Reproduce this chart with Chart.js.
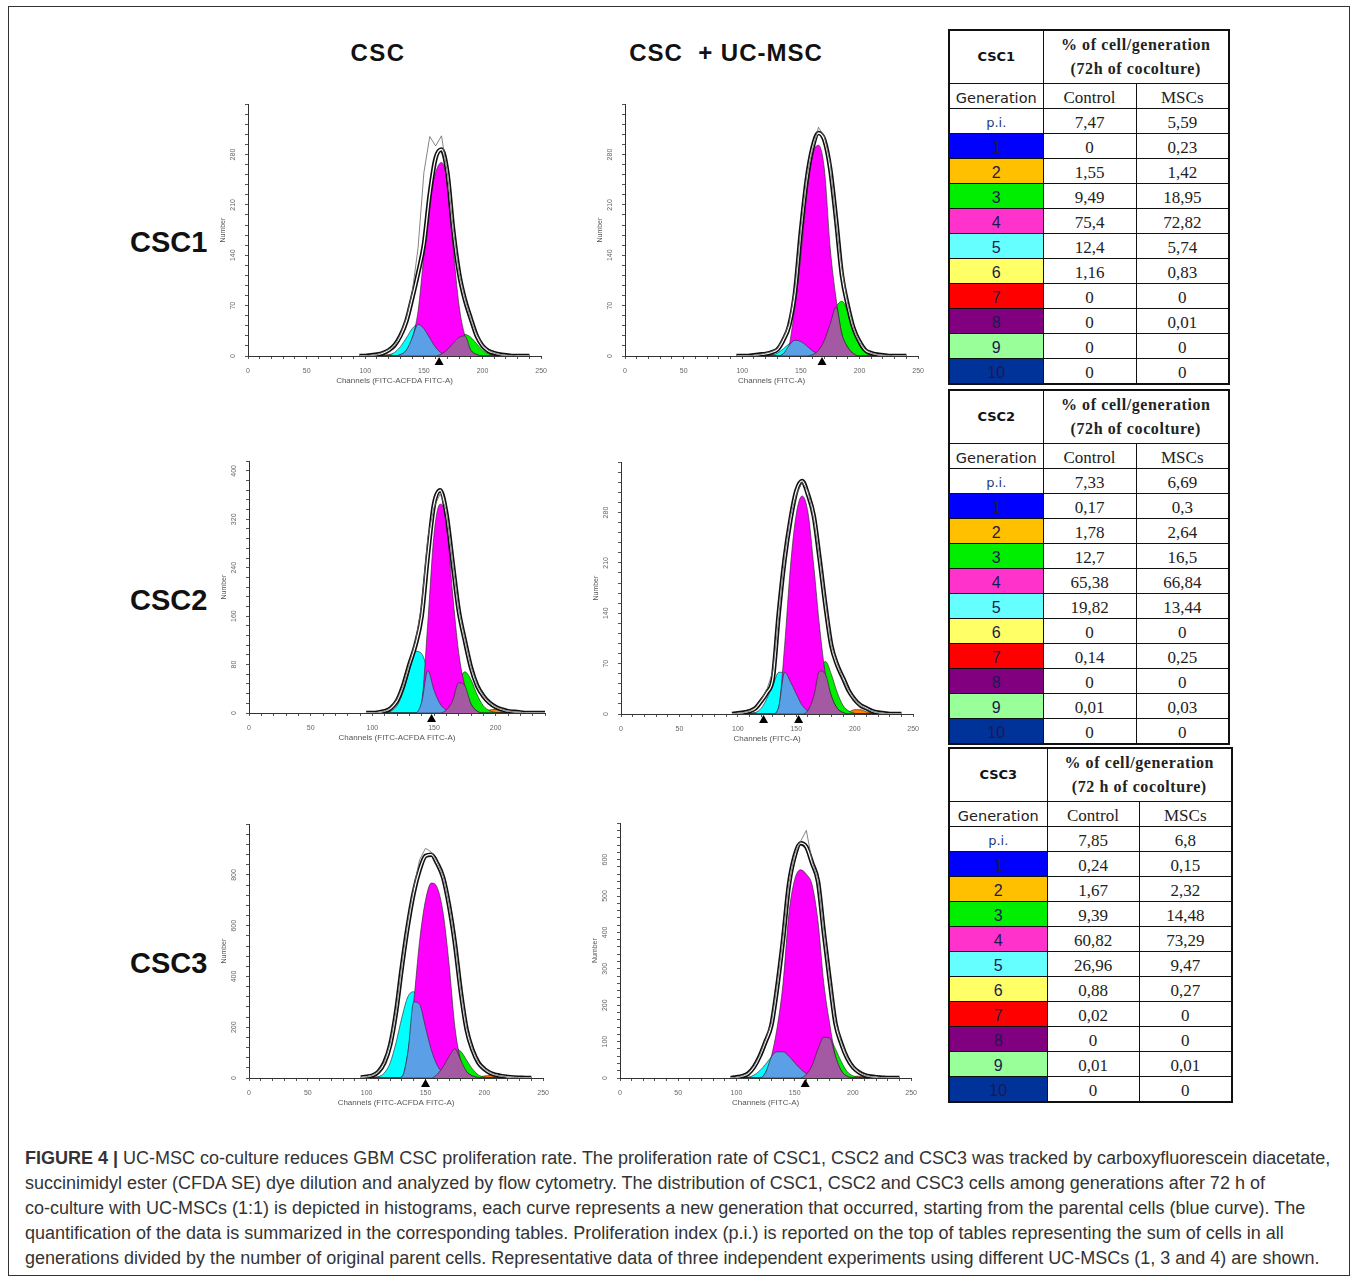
<!DOCTYPE html>
<html>
<head>
<meta charset="utf-8">
<script src="https://cdn.jsdelivr.net/npm/chart.js@4.4.1/dist/chart.umd.min.js"></script>
<style>
body{margin:0;background:#fff;width:1356px;height:1280px;position:relative;overflow:hidden;font-family:"Liberation Sans",Arial,sans-serif;}
#frame{position:absolute;left:8px;top:6px;width:1340px;height:1268px;border:1px solid #333;}
.colhead{position:absolute;top:39px;font-weight:bold;font-size:24px;color:#111;text-align:center;width:300px;}
.rowhead{position:absolute;left:130px;font-weight:bold;font-size:29px;color:#111;}
canvas{position:absolute;}
table{position:absolute;border-collapse:collapse;table-layout:fixed;border:2px solid #111;}
td{border:1.5px solid #111;text-align:center;padding:0;height:24px;font-family:"Liberation Serif",serif;font-size:17px;color:#222;line-height:20px;vertical-align:bottom;}
td.hd{height:52px;vertical-align:middle;}
td.cscname{font-family:"DejaVu Sans",sans-serif;font-weight:bold;font-size:13px;color:#111;}
td.pct{font-weight:bold;font-size:16px;letter-spacing:0.6px;line-height:24px;}
td.genhd{font-family:"DejaVu Sans",sans-serif;font-size:14.5px;}
td.gen{font-family:"Liberation Sans",sans-serif;font-size:16px;color:#1a1a50;}
td.pi{font-family:"DejaVu Sans",sans-serif;font-size:13px;color:#1f3a80;}
#caption{position:absolute;left:25px;top:1146px;width:1320px;font-size:18px;line-height:25px;color:#333;white-space:nowrap;}
</style>
</head>
<body>
<div id="frame"></div>
<div class="colhead" style="left:228px;letter-spacing:1.5px">CSC</div>
<div class="colhead" style="left:576px;letter-spacing:1px">CSC&nbsp; + UC-MSC</div>
<div class="rowhead" style="top:226px">CSC1</div>
<div class="rowhead" style="top:584px">CSC2</div>
<div class="rowhead" style="top:947px">CSC3</div>

<canvas id="p1"></canvas>
<canvas id="p2"></canvas>
<canvas id="p3"></canvas>
<canvas id="p4"></canvas>
<canvas id="p5"></canvas>
<canvas id="p6"></canvas>

<div id="tables"></div>

<div id="caption"><b>FIGURE 4 |</b> UC-MSC co-culture reduces GBM CSC proliferation rate. The proliferation rate of CSC1, CSC2 and CSC3 was tracked by carboxyfluorescein diacetate,<br>succinimidyl ester (CFDA SE) dye dilution and analyzed by flow cytometry. The distribution of CSC1, CSC2 and CSC3 cells among generations after 72 h of<br>co-culture with UC-MSCs (1:1) is depicted in histograms, each curve represents a new generation that occurred, starting from the parental cells (blue curve). The<br>quantification of the data is summarized in the corresponding tables. Proliferation index (p.i.) is reported on the top of tables representing the sum of cells in all<br>generations divided by the number of original parent cells. Representative data of three independent experiments using different UC-MSCs (1, 3 and 4) are shown.</div>

<script>
// channels (x values) for every curve
let channels = [95,100,105,110,115,120,125,130,135,140,145,150,155,160,165,170,175,180,185,190,195,200,205,210,215,220,225,230,235,240];

let xTickLabels = [0,50,100,150,200,250];
let yTicks1 = [0,70,140,210,280];
let yTicks3 = [0,80,160,240,320,400];
let yTicks5 = [0,200,400,600,800];
let yTicks6 = [0,100,200,300,400,500,600];

/* CSC1 control */
let c1_raw = [0,0,1,2,5,9,14,30,52,88,150,255,305,292,306,255,178,115,80,50,30,15,8,4,2,1,1,0,0,0];
let c1_env = [0,0,1,2,4,8,15,28,48,80,115,155,225,275,287,255,175,115,78,52,28,14,7,4,2,1,0,0,0,0];
let c1_g2  = [0,0,0,0,0,0,0,0,0,0,0,0,0,0,0,0,0,0,0,0,1,2,2,2,1,0,0,0,0,0];
let c1_g3  = [0,0,0,0,0,0,0,0,0,0,0,0,0,0,3,9,18,26,30,26,17,8,3,1,0,0,0,0,0,0];
let c1_g4  = [0,0,0,0,0,0,0,2,8,25,62,140,215,255,269,240,150,70,28,8,2,0,0,0,0,0,0,0,0,0];
let c1_g5  = [0,0,0,0,0,1,5,13,25,38,44,38,25,12,4,1,0,0,0,0,0,0,0,0,0,0,0,0,0,0];
let c1_g6  = [0,0,0,0,1,2,3,3,2,1,0,0,0,0,0,0,0,0,0,0,0,0,0,0,0,0,0,0,0,0];
let marks1 = [163];

/* CSC1 + UC-MSC */
let c2_raw = [0,0,0,1,2,4,6,10,25,45,95,178,250,288,318,305,268,185,120,72,38,19,9,4,2,1,1,0,0,0];
let c2_env = [0,0,0,1,2,3,5,9,22,42,88,173,245,290,310,300,260,190,112,70,38,20,8,4,2,1,0,0,0,0];
let c2_g2  = [0,0,0,0,0,0,0,0,0,0,0,0,0,0,0,0,0,0,0,0,0,1,2,2,1,0,0,0,0,0];
let c2_g3  = [0,0,0,0,0,0,0,0,0,0,0,0,0,2,8,22,45,68,76,62,38,15,5,1,0,0,0,0,0,0];
let c2_g4  = [0,0,0,0,0,0,0,0,3,15,70,140,225,280,293,260,150,80,30,12,3,0,0,0,0,0,0,0,0,0];
let c2_g5  = [0,0,0,0,0,0,1,4,10,17,22,20,14,7,3,1,0,0,0,0,0,0,0,0,0,0,0,0,0,0];
let c2_g6  = [0,0,0,0,0,1,2,2,1,0,0,0,0,0,0,0,0,0,0,0,0,0,0,0,0,0,0,0,0,0];
let marks2 = [168];

/* CSC2 control */
let c3_raw = [0,0,1,3,9,22,45,82,118,178,290,340,362,335,250,172,122,76,46,28,17,10,6,3,2,1,0,0,0,0];
let c3_env = [0,0,1,3,8,20,45,80,112,160,260,345,368,330,250,170,120,75,45,28,17,10,6,3,2,1,0,0,0,0];
let c3_g2  = [0,0,0,0,0,0,0,0,0,0,0,0,0,0,0,0,0,0,0,2,5,6,4,2,1,0,0,0,0,0];
let c3_g3  = [0,0,0,0,0,0,0,0,0,0,0,0,0,5,20,50,68,55,30,12,4,1,0,0,0,0,0,0,0,0];
let c3_g4  = [0,0,0,0,0,0,0,0,0,18,150,295,345,320,200,100,45,15,3,0,0,0,0,0,0,0,0,0,0,0];
let c3_g5  = [0,0,0,0,3,12,35,70,102,98,70,38,15,5,1,0,0,0,0,0,0,0,0,0,0,0,0,0,0,0];
let c3_g6  = [0,0,0,1,2,1,0,0,0,0,0,0,0,0,0,0,0,0,0,0,0,0,0,0,0,0,0,0,0,0];
let marks3 = [148];

/* CSC2 + UC-MSC */
let c4_raw = [0,1,2,4,9,20,35,60,135,220,275,305,322,310,270,218,155,95,70,48,33,20,12,7,4,2,1,0,0,0];
let c4_env = [0,1,2,4,8,18,30,50,140,215,270,310,324,305,275,215,150,95,68,50,32,20,12,8,4,2,1,0,0,0];
let c4_g2  = [0,0,0,0,0,0,0,0,0,0,0,0,0,0,0,0,0,0,0,0,3,6,6,3,1,0,0,0,0,0];
let c4_g3  = [0,0,0,0,0,0,0,0,0,0,0,0,0,5,25,60,73,55,30,12,4,1,0,0,0,0,0,0,0,0];
let c4_g4  = [0,0,0,0,0,0,0,0,10,95,205,278,303,280,205,120,55,25,8,2,0,0,0,0,0,0,0,0,0,0];
let c4_g5  = [0,0,0,0,2,8,22,40,58,58,45,28,12,4,1,0,0,0,0,0,0,0,0,0,0,0,0,0,0,0];
let c4_g6  = [0,0,0,1,2,1,0,0,0,0,0,0,0,0,0,0,0,0,0,0,0,0,0,0,0,0,0,0,0,0];
let marks4 = [122,152];

/* CSC3 control */
let c5_raw = [2,5,11,26,62,135,265,450,615,750,860,905,890,850,795,685,540,345,195,112,62,36,21,12,7,4,2,1,0,0];
let c5_env = [2,5,10,25,60,130,260,440,600,730,820,875,880,845,790,680,530,340,190,110,60,35,20,12,7,4,2,1,0,0];
let c5_g2  = [0,0,0,0,0,0,0,0,0,0,0,0,0,0,0,0,0,0,0,0,3,8,10,7,3,1,0,0,0,0];
let c5_g3  = [0,0,0,0,0,0,0,0,0,0,0,0,0,15,45,85,115,105,70,35,12,4,1,0,0,0,0,0,0,0];
let c5_g4  = [0,0,0,0,0,0,0,5,100,300,540,700,768,750,650,450,200,70,25,8,2,0,0,0,0,0,0,0,0,0];
let c5_g5  = [0,0,0,5,20,60,140,240,320,340,290,200,110,50,18,5,1,0,0,0,0,0,0,0,0,0,0,0,0,0];
let c5_g6  = [0,0,2,5,8,8,5,2,0,0,0,0,0,0,0,0,0,0,0,0,0,0,0,0,0,0,0,0,0,0];
let marks5 = [150];

/* CSC3 + UC-MSC */
let c6_raw = [0,2,6,13,32,62,105,150,255,385,535,615,650,680,595,545,405,275,155,98,57,31,17,8,4,2,1,0,0,0];
let c6_env = [0,2,5,12,30,60,100,145,250,380,530,610,645,635,590,540,400,270,150,95,55,30,16,8,4,2,1,0,0,0];
let c6_g2  = [0,0,0,0,0,0,0,0,0,0,0,0,0,0,0,0,0,0,0,0,2,4,5,3,1,0,0,0,0,0];
let c6_g3  = [0,0,0,0,0,0,0,0,0,0,0,0,0,10,35,80,112,110,80,45,18,6,2,0,0,0,0,0,0,0];
let c6_g4  = [0,0,0,0,0,0,15,60,140,260,450,545,572,560,530,430,260,150,60,20,5,1,0,0,0,0,0,0,0,0];
let c6_g5  = [0,0,0,2,8,20,38,58,72,72,60,42,25,12,5,2,0,0,0,0,0,0,0,0,0,0,0,0,0,0];
let c6_g6  = [0,0,0,1,2,2,1,0,0,0,0,0,0,0,0,0,0,0,0,0,0,0,0,0,0,0,0,0,0,0];
let marks6 = [159];

/* tables */
let genLabels = ["p.i.","1","2","3","4","5","6","7","8","9","10"];
let csc1Control = ["7,47","0","1,55","9,49","75,4","12,4","1,16","0","0","0","0"];
let csc1Mscs    = ["5,59","0,23","1,42","18,95","72,82","5,74","0,83","0","0,01","0","0"];
let csc2Control = ["7,33","0,17","1,78","12,7","65,38","19,82","0","0,14","0","0,01","0"];
let csc2Mscs    = ["6,69","0,3","2,64","16,5","66,84","13,44","0","0,25","0","0,03","0"];
let csc3Control = ["7,85","0,24","1,67","9,39","60,82","26,96","0,88","0,02","0","0,01","0"];
let csc3Mscs    = ["6,8","0,15","2,32","14,48","73,29","9,47","0,27","0","0","0,01","0"];

let genColors = ["#ffffff","#0000ff","#ffc000","#00ee00","#ff33cc","#66ffff","#ffff66","#ff0000","#800080","#99ff99","#003399"];


function pts(arr){
  return arr.map((v,i)=>({x:channels[i], y:v}));
}

function overlap(a,b){
  return a.map((v,i)=>Math.min(v,b[i]));
}

// black triangles under the x axis
const triPlugin = {
  id:"tri",
  afterDraw(chart, args, opts){
    let ctx = chart.ctx;
    let xs = chart.scales.x;
    let b = chart.chartArea.bottom;
    (opts.at || []).forEach(v=>{
      let px = xs.getPixelForValue(v);
      ctx.save();
      ctx.beginPath();
      ctx.moveTo(px, b+1);
      ctx.lineTo(px-4.5, b+9);
      ctx.lineTo(px+4.5, b+9);
      ctx.closePath();
      ctx.fillStyle = "#000";
      ctx.fill();
      ctx.restore();
    });
  }
};

function area(data, color){
  return {
    data: pts(data),
    borderColor: "rgba(40,40,40,0.8)",
    borderWidth: 0.8,
    backgroundColor: color,
    fill: "origin",
    pointRadius: 0,
    cubicInterpolationMode: "monotone"
  };
}

function makePanel(id, box, xMax, yMax, yStep, yLabels, xTitle, raw, env, g2, g3, g4, g5, g6, marks){

  let yW = 34, xH = 34, padT = 6, padR = 12;
  let cv = document.getElementById(id);
  cv.width = (box[2]-box[0]) + yW + padR;
  cv.height = (box[3]-box[1]) + padT + xH;
  cv.style.left = (box[0]-yW) + "px";
  cv.style.top = (box[1]-padT) + "px";

  let tickFont = {family:"Liberation Sans", size:7};

  new Chart(cv, {
    type: "line",
    data: {
      datasets: [
        {data: pts(raw), borderColor:"#666", borderWidth:0.8, fill:false, pointRadius:0, tension:0},
        {data: pts(env), borderColor:"#fff", borderWidth:1.3, fill:false, pointRadius:0, cubicInterpolationMode:"monotone"},
        {data: pts(env), borderColor:"#111", borderWidth:4.5, fill:false, pointRadius:0, cubicInterpolationMode:"monotone"},
        area(overlap(g3,g4), "#a35aa3"),
        area(overlap(g5,g4), "#5b9fe6"),
        area(g4, "#ff00ff"),
        area(g3, "#00ee00"),
        area(g5, "#00ffff"),
        area(g6, "#c9c400"),
        area(g2, "#ff8000")
      ]
    },
    options: {
      responsive: false,
      animation: false,
      layout: {padding: {top:padT, right:padR, left:0, bottom:0}},
      plugins: {
        legend: {display:false},
        tooltip: {enabled:false},
        tri: {at: marks}
      },
      scales: {
        x: {
          type: "linear",
          min: 0,
          max: xMax,
          afterFit: s=>{ s.height = xH; },
          ticks: {
            stepSize: 10,
            autoSkip: false,
            maxRotation: 0,
            padding: 8,
            color: "#666",
            font: tickFont,
            callback: v => xTickLabels.includes(v) ? String(v) : ""
          },
          grid: {drawOnChartArea:false, drawTicks:true, tickLength:3, color:"#555"},
          border: {display:true, color:"#333", width:1},
          title: {display:true, text:xTitle, color:"#555", font:{family:"Liberation Sans", size:8}, padding:{top:0,bottom:4}}
        },
        y: {
          min: 0,
          max: yMax,
          afterFit: s=>{ s.width = yW; },
          ticks: {
            stepSize: yStep,
            autoSkip: false,
            minRotation: 90,
            maxRotation: 90,
            crossAlign: "center",
            padding: 6,
            color: "#666",
            font: tickFont,
            callback: v => yLabels.includes(v) ? String(v) : ""
          },
          grid: {drawOnChartArea:false, drawTicks:true, tickLength:3, color:"#555"},
          border: {display:true, color:"#333", width:1},
          title: {display:true, text:"Number", color:"#555", font:{family:"Liberation Sans", size:7}, padding:{top:5,bottom:0}}
        }
      }
    },
    plugins: [triPlugin]
  });
}

makePanel("p1", [248,100,543,356], 250, 350, 14, yTicks1, "Channels (FITC-ACFDA FITC-A)", c1_raw, c1_env, c1_g2, c1_g3, c1_g4, c1_g5, c1_g6, marks1);
makePanel("p2", [625,100,920,356], 250, 350, 14, yTicks1, "Channels (FITC-A)", c2_raw, c2_env, c2_g2, c2_g3, c2_g4, c2_g5, c2_g6, marks2);
makePanel("p3", [249,457,545,713], 240, 416, 16, yTicks3, "Channels (FITC-ACFDA FITC-A)", c3_raw, c3_env, c3_g2, c3_g3, c3_g4, c3_g5, c3_g6, marks3);
makePanel("p4", [621,458,915,714], 250, 350, 14, yTicks1, "Channels (FITC-A)", c4_raw, c4_env, c4_g2, c4_g3, c4_g4, c4_g5, c4_g6, marks4);
makePanel("p5", [249,820,545,1078], 250, 1000, 40, yTicks5, "Channels (FITC-ACFDA FITC-A)", c5_raw, c5_env, c5_g2, c5_g3, c5_g4, c5_g5, c5_g6, marks5);
makePanel("p6", [620,819,913,1078], 250, 700, 20, yTicks6, "Channels (FITC-A)", c6_raw, c6_env, c6_g2, c6_g3, c6_g4, c6_g5, c6_g6, marks6);


/* TABLES */

function makeTable(name, line2, ctrlName, control, mscs, left, top, widths){
  let html = `<table style="left:${left}px;top:${top}px;width:${widths[0]+widths[1]+widths[2]}px">
<colgroup><col style="width:${widths[0]}px"><col style="width:${widths[1]}px"><col style="width:${widths[2]}px"></colgroup>
<tr><td class="hd cscname">${name}</td><td class="hd pct" colspan="2">% of cell/generation<br>${line2}</td></tr>
<tr><td class="genhd">Generation</td><td>${ctrlName}</td><td>MSCs</td></tr>`;
  for(let i=0;i<genLabels.length;i++){
    let cls = i==0 ? "pi" : "gen";
    html += `<tr><td class="${cls}" style="background:${genColors[i]}">${genLabels[i]}</td><td>${control[i]}</td><td>${mscs[i]}</td></tr>`;
  }
  html += "</table>";
  return html;
}

document.getElementById("tables").innerHTML =
  makeTable("CSC1", "(72h of cocolture)", "Control", csc1Control, csc1Mscs, 948, 29, [94,93,93]) +
  makeTable("CSC2", "(72h of cocolture)", "Control", csc2Control, csc2Mscs, 948, 389, [94,93,93]) +
  makeTable("CSC3", "(72 h of cocolture)", "Control", csc3Control, csc3Mscs, 948, 747, [98,92,93]);
</script>
</body>
</html>
